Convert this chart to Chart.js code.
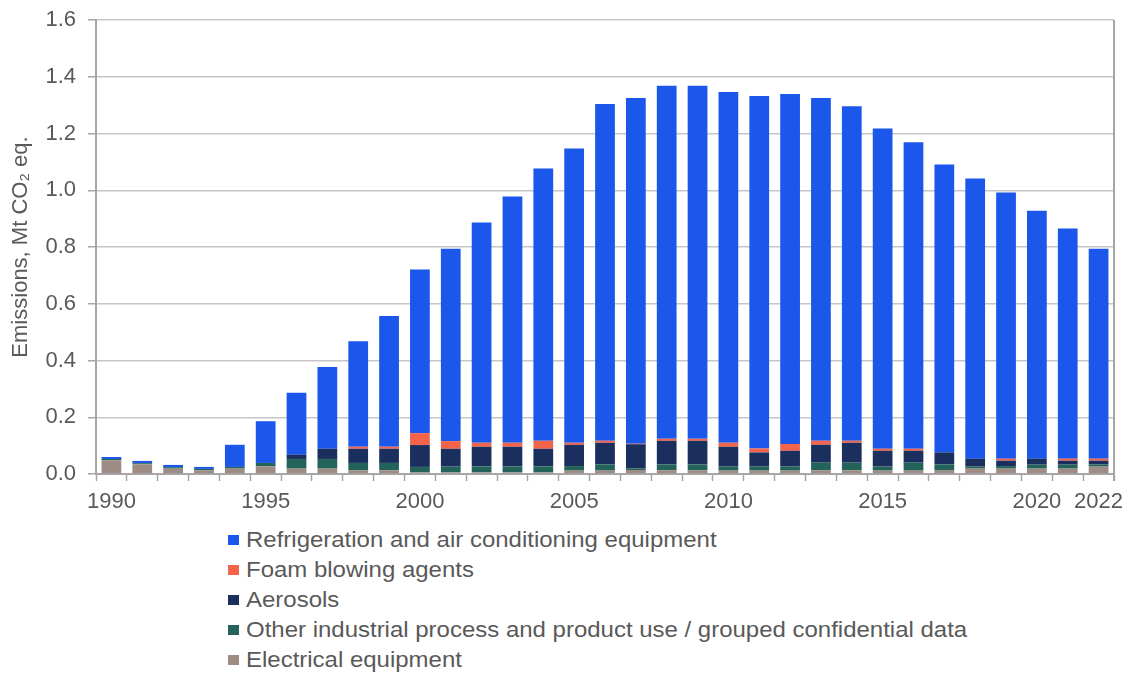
<!DOCTYPE html>
<html>
<head>
<meta charset="utf-8">
<script src="https://cdn.jsdelivr.net/npm/chart.js@4"></script>
<style>
  html, body { margin: 0; padding: 0; background: #ffffff; }
  body { width: 1128px; height: 680px; position: relative; overflow: hidden; font-family: "Liberation Sans", Arial, sans-serif; }
  #wrap { position: absolute; left: 0; top: 0; width: 1128px; height: 510px; }
  #legend { position: absolute; left: 228px; top: 525px; color: #595959; font-size: 22px; line-height: 30px; }
  #legend .item { display: flex; align-items: center; white-space: nowrap; }
  #legend .box { width: 11px; height: 10px; margin-right: 7px; flex: none; }
  #legend .txt { display: inline-block; transform: scaleX(1.09); transform-origin: left center; }
</style>
</head>
<body>
<div id="wrap"><canvas id="c"></canvas></div>
<div id="legend"></div>
<script>
// ---- Data (Mt CO2 eq.) ----
const years = ['1990','1991','1992','1993','1994','1995','1996','1997','1998','1999','2000','2001','2002','2003','2004','2005','2006','2007','2008','2009','2010','2011','2012','2013','2014','2015','2016','2017','2018','2019','2020','2021','2022'];
const xTickLabels = ['1990','1995','2000','2005','2010','2015','2020','2022'];
const yTickValues = [0, 0.2, 0.4, 0.6, 0.8, 1.0, 1.2, 1.4, 1.6];

const electrical = [0.048,0.034,0.019,0.013,0.019,0.027,0.019,0.019,0.013,0.013,0.006,0.006,0.006,0.006,0.006,0.012,0.012,0.014,0.013,0.013,0.012,0.012,0.012,0.013,0.013,0.012,0.012,0.012,0.019,0.019,0.019,0.019,0.026];
const otherIndustrial = [0.005,0.004,0.005,0.005,0.006,0.012,0.034,0.034,0.026,0.026,0.019,0.020,0.021,0.021,0.021,0.016,0.022,0.006,0.021,0.021,0.014,0.014,0.015,0.027,0.027,0.014,0.028,0.022,0.007,0.009,0.014,0.014,0.008];
const aerosols = [0,0,0,0,0,0,0.015,0.036,0.050,0.050,0.077,0.063,0.069,0.069,0.062,0.075,0.076,0.085,0.083,0.083,0.070,0.050,0.055,0.063,0.070,0.056,0.042,0.042,0.028,0.019,0.021,0.014,0.013];
const foam = [0,0,0,0,0,0,0,0,0.007,0.007,0.042,0.027,0.014,0.014,0.028,0.007,0.007,0.002,0.007,0.007,0.014,0.014,0.024,0.014,0.007,0.007,0.007,0,0,0.007,0,0.007,0.007];
const refrigeration = [0.007,0.008,0.008,0.007,0.078,0.147,0.218,0.288,0.372,0.461,0.577,0.678,0.776,0.868,0.960,1.037,1.187,1.218,1.244,1.244,1.236,1.242,1.233,1.208,1.179,1.129,1.080,1.015,0.987,0.938,0.874,0.811,0.740];

const seriesNames = [
  'Electrical equipment',
  'Other industrial process and product use / grouped confidential data',
  'Aerosols',
  'Foam blowing agents',
  'Refrigeration and air conditioning equipment'
];
const seriesColors = ['#9D8B84', '#23635A', '#1B2F5F', '#F4644A', '#1B57EA'];
const seriesData = [electrical, otherIndustrial, aerosols, foam, refrigeration];

const textColor = '#595959';
const fontFamily = '"Liberation Sans", Arial, sans-serif';

const datasets = seriesData.map((d, i) => ({
  label: seriesNames[i],
  data: d,
  backgroundColor: seriesColors[i],
  borderWidth: 0,
  categoryPercentage: 1.0,
  barPercentage: 0.64,
  stack: 's'
}));

const rightBorder = {
  id: 'rightBorder',
  afterDraw(chart) {
    const a = chart.chartArea, ctx = chart.ctx;
    ctx.save();
    ctx.strokeStyle = '#A6A6A6';
    ctx.lineWidth = 2;
    ctx.beginPath();
    ctx.moveTo(a.right, a.top);
    ctx.lineTo(a.right, a.bottom + 7);
    ctx.stroke();
    ctx.restore();
  }
};

const chart = new Chart(document.getElementById('c'), {
  type: 'bar',
  data: { labels: years, datasets },
  plugins: [rightBorder],
  options: {
    responsive: true,
    maintainAspectRatio: false,
    animation: false,
    layout: { padding: { left: 0, right: 14, top: 20, bottom: 0 } },
    plugins: {
      legend: { display: false },
      tooltip: { enabled: false }
    },
    scales: {
      x: {
        stacked: true,
        offset: true,
        afterFit(scale) { scale.height = 36; scale.paddingLeft = 0; scale.paddingRight = 0; },
        grid: {
          offset: true,
          drawOnChartArea: false,
          drawTicks: true,
          tickLength: 7,
          tickColor: '#A6A6A6',
          tickWidth: 1.5
        },
        border: { display: true, color: '#A6A6A6', width: 2 },
        ticks: {
          autoSkip: false,
          maxRotation: 0,
          minRotation: 0,
          color: textColor,
          padding: 8,
          font: { family: fontFamily, size: 22 },
          callback(value, index) {
            const lab = years[index];
            return xTickLabels.includes(lab) ? lab : '';
          }
        }
      },
      y: {
        stacked: true,
        min: 0,
        max: 1.6,
        afterFit(scale) { scale.width = 96; scale.paddingTop = 0; scale.paddingBottom = 0; },
        afterBuildTicks(scale) { scale.ticks = yTickValues.map(v => ({ value: v })); },
        grid: {
          color: '#C6C6C6',
          lineWidth: 1.5,
          drawTicks: true,
          tickLength: 8,
          tickColor: '#A6A6A6',
          tickWidth: 1.5
        },
        border: { display: true, color: '#A6A6A6', width: 2 },
        ticks: {
          color: textColor,
          padding: 12,
          font: { family: fontFamily, size: 22 },
          callback(value) { return Number(value).toFixed(1); }
        },
        title: {
          display: true,
          text: 'Emissions, Mt CO\u2082 eq.',
          color: textColor,
          padding: { top: 8, bottom: 0 },
          font: { family: fontFamily, size: 22 }
        }
      }
    }
  }
});

// HTML legend built from the chart's datasets (top series first)
const legendEl = document.getElementById('legend');
chart.data.datasets.slice().reverse().forEach(ds => {
  const item = document.createElement('div');
  item.className = 'item';
  const box = document.createElement('span');
  box.className = 'box';
  box.style.background = ds.backgroundColor;
  const txt = document.createElement('span');
  txt.className = 'txt';
  txt.textContent = ds.label;
  item.appendChild(box);
  item.appendChild(txt);
  legendEl.appendChild(item);
});
</script>
</body>
</html>
